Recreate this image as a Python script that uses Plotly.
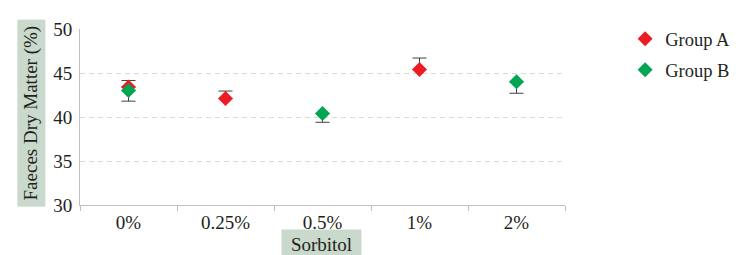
import plotly.graph_objects as go

categories = ["0%", "0.25%", "0.5%", "1%", "2%"]
group_a_x = ["0%", "0.25%", "1%"]
group_a_y = [43.4, 42.1, 45.4]
group_a_err = [0.75, 0.85, 1.3]
group_b_x = ["0%", "0.5%", "2%"]
group_b_y = [43.0, 40.4, 44.0]
group_b_err = [1.2, 1.0, 1.3]
y_ticks = [30, 35, 40, 45, 50]

FONT = "'Liberation Serif', Tinos, 'Times New Roman', 'DejaVu Serif', serif"
TXT = "#231F20"

fig = go.Figure()
fig.add_trace(go.Scatter(
    x=group_a_x, y=group_a_y, mode="markers", name="Group A", legendgroup="a",
    marker=dict(symbol="diamond", size=11.5, color="#ED1C24"),
    error_y=dict(type="data", symmetric=False, array=group_a_err,
                 arrayminus=[0] * len(group_a_err), color="#404040", thickness=1, width=7),
))
fig.add_trace(go.Scatter(
    x=group_b_x, y=group_b_y, mode="markers", name="Group B", legendgroup="b",
    marker=dict(symbol="diamond", size=11.5, color="#00A651"),
    error_y=dict(type="data", symmetric=False, array=[0] * len(group_b_err),
                 arrayminus=group_b_err, color="#404040", thickness=1, width=7),
))

fig.update_layout(
    width=743, height=255,
    margin=dict(l=72, r=186, t=17, b=58),
    paper_bgcolor="white", plot_bgcolor="white",
    font=dict(family=FONT, size=18, color=TXT),
    showlegend=True,
    legend=dict(x=1.124, y=1.05, xanchor="left", yanchor="top",
                font=dict(family=FONT, size=18.5, color=TXT),
                tracegroupgap=4, bgcolor="rgba(0,0,0,0)"),
    xaxis=dict(type="category", categoryorder="array", categoryarray=categories,
               range=[-0.5, 4.5], showgrid=False, showline=True, linecolor="#BFBFBF",
               linewidth=1, ticks="outside", tickson="boundaries", ticklen=5,
               tickcolor="#BFBFBF", tickfont=dict(family=FONT, size=19, color=TXT)),
    yaxis=dict(range=[30, 50], tickvals=y_ticks, showgrid=True, gridcolor="#D9D9D9",
               griddash="5px,4px", gridwidth=1, showline=True, linecolor="#BFBFBF",
               linewidth=1, ticks="", zeroline=False, ticklabelstandoff=3,
               tickfont=dict(family=FONT, size=19, color=TXT)),
    annotations=[
        dict(text="Faeces Dry Matter (%)", textangle=-90, xref="paper", yref="paper",
             x=-0.101, y=0.522, xanchor="center", yanchor="middle", showarrow=False,
             bgcolor="#C9D9CB", width=184, height=25,
             font=dict(family=FONT, size=19, color=TXT)),
        dict(text="Sorbitol", xref="paper", yref="paper", x=0.498, y=-0.222,
             xanchor="center", yanchor="middle", showarrow=False,
             bgcolor="#C9D9CB", width=77, height=26,
             font=dict(family=FONT, size=19, color=TXT)),
    ],
)

fig.write_html("out.html")
